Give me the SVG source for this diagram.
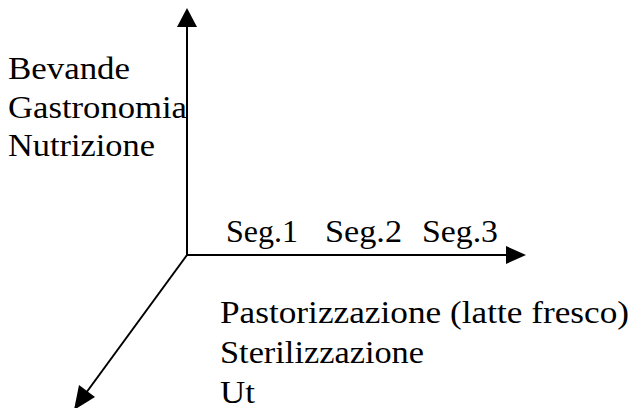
<svg xmlns="http://www.w3.org/2000/svg" width="632" height="408" viewBox="0 0 632 408">
<style>
.t{font-family:"Liberation Serif","Times New Roman",serif;font-size:32px;fill:#000}
.ax{stroke:#000;stroke-width:2;fill:none}
.ah{fill:#000;stroke:none}
</style>
<rect width="632" height="408" fill="#fff"/>
<g id="connectors">
<line class="ax" x1="187" y1="256" x2="187" y2="26"/>
<polygon class="ah" points="187,8 177,27 197,27"/>
<line class="ax" x1="186" y1="255" x2="507" y2="255"/>
<polygon class="ah" points="526,255 506,246 506,264"/>
<line class="ax" x1="187" y1="255" x2="86" y2="393"/>
<polygon class="ah" points="74,410 79,385 95,397"/>
</g>
<g id="vertical-labels">
<text class="t" x="8" y="78.5" textLength="122" lengthAdjust="spacingAndGlyphs">Bevande</text>
<text class="t" x="8" y="117.5" textLength="179" lengthAdjust="spacingAndGlyphs">Gastronomia</text>
<text class="t" x="8" y="156" textLength="147" lengthAdjust="spacingAndGlyphs">Nutrizione</text>
</g>
<g id="horizontal-labels">
<text class="t" x="226" y="242" textLength="72" lengthAdjust="spacingAndGlyphs">Seg.1</text>
<text class="t" x="325" y="242" textLength="77" lengthAdjust="spacingAndGlyphs">Seg.2</text>
<text class="t" x="422" y="242" textLength="76" lengthAdjust="spacingAndGlyphs">Seg.3</text>
</g>
<g id="diagonal-labels">
<text class="t" x="220" y="322.5" textLength="409" lengthAdjust="spacingAndGlyphs">Pastorizzazione (latte fresco)</text>
<text class="t" x="220" y="362.5" textLength="204" lengthAdjust="spacingAndGlyphs">Sterilizzazione</text>
<text class="t" x="220" y="402.5" textLength="35" lengthAdjust="spacingAndGlyphs">Ut</text>
</g>
</svg>
